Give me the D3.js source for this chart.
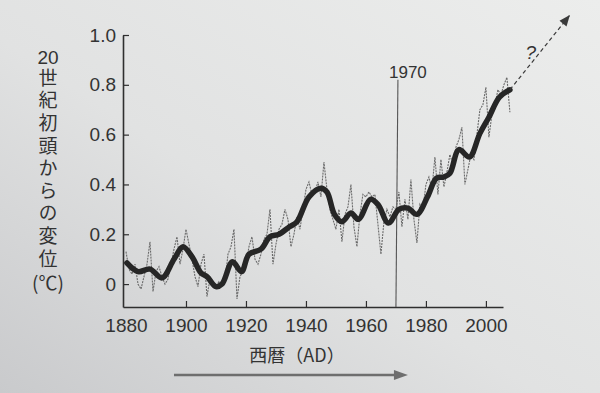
<!DOCTYPE html>
<html><head><meta charset="utf-8">
<script src="https://cdn.jsdelivr.net/npm/d3@7"></script>
<style>html,body{margin:0;padding:0;overflow:hidden;background:#e2e3e3}</style>
</head><body>
<svg id="c" width="600" height="393"></svg>
<script>
// ---- data ----
const years = d3.range(1880, 2009);
const annual = [
 0.13,0.06,0.04,0.08,0.00,-0.02,0.03,0.08,0.17,-0.03,
 0.05,0.07,0.03,0.00,0.02,0.08,0.14,0.19,0.08,0.14,
 0.22,0.16,0.10,0.03,-0.01,0.08,0.12,-0.05,0.02,0.00,
 -0.01,0.01,0.00,0.01,0.12,0.15,0.22,-0.06,0.03,0.05,
 0.08,0.15,0.19,0.10,0.08,0.12,0.18,0.20,0.30,0.08,
 0.16,0.22,0.24,0.30,0.26,0.15,0.20,0.27,0.22,0.30,
 0.38,0.41,0.36,0.37,0.41,0.35,0.49,0.38,0.30,0.26,
 0.22,0.30,0.17,0.28,0.31,0.40,0.23,0.15,0.28,0.36,
 0.35,0.37,0.35,0.36,0.24,0.12,0.25,0.30,0.27,0.31,
 0.30,0.37,0.23,0.34,0.26,0.42,0.26,0.165,0.32,0.30,
 0.40,0.43,0.38,0.51,0.36,0.50,0.39,0.45,0.52,0.48,
 0.55,0.58,0.63,0.40,0.46,0.52,0.50,0.60,0.70,0.72,
 0.79,0.59,0.68,0.72,0.78,0.76,0.80,0.83,0.69
];
const smoothYears = [1880.3,1884,1888,1892,1896,1899,1902,1905,1907,1910,1912,1915.5,1918.5,1921,1925,1928,1931,1934.5,1937,1941,1945,1947,1949.5,1952,1955,1957.5,1961.5,1964,1967.5,1971,1974,1977,1980.5,1983.5,1986,1988,1991,1994.5,1998,2001,2004.5,2008];
const smoothVals  = [0.085,0.05,0.06,0.025,0.10,0.15,0.11,0.045,0.03,-0.01,0.00,0.09,0.05,0.12,0.14,0.19,0.20,0.23,0.25,0.35,0.385,0.37,0.28,0.25,0.285,0.26,0.34,0.32,0.245,0.30,0.305,0.28,0.35,0.425,0.43,0.445,0.54,0.51,0.605,0.67,0.75,0.78];
const xTicks = [1880,1900,1920,1940,1960,1980,2000];
const yTicks = [0,0.2,0.4,0.6,0.8,1.0];
const yLabelTop = "20";
const yLabelMain = "世紀初頭からの変位";
const yLabelUnit = "(℃)";
const markYear = 1970;
const trendArrow = {from:[2008,0.78], to:[2028,1.08], q:[2015,0.92]};
const timeArrow = [1896, 1974];

// ---- layout ----
const svg = d3.select("#c");
const defs = svg.append("defs");
const g = defs.append("linearGradient").attr("id","bg").attr("x1","1").attr("y1","0").attr("x2","0").attr("y2","1");
g.append("stop").attr("offset","0").attr("stop-color","#ecedec");
g.append("stop").attr("offset","0.55").attr("stop-color","#e1e2e2");
g.append("stop").attr("offset","1").attr("stop-color","#c9cacc");
svg.append("rect").attr("width",600).attr("height",393).attr("fill","url(#bg)");

const x = d3.scaleLinear().domain([1879, 2005.7]).range([123, 503]);
const y = d3.scaleLinear().domain([-0.092, 1.0]).range([307, 35]);
const ink = "#2f2f2f";
const font = "'Liberation Sans', Arial, sans-serif";
const jfont = "'Noto Sans CJK JP', sans-serif";

// axes
const ax = svg.append("g").attr("transform","translate(0,307)")
  .call(d3.axisBottom(x).tickValues(xTicks).tickSize(-6).tickSizeOuter(0).tickPadding(12).tickFormat(d3.format("d")));
ax.select(".domain").attr("stroke",ink).attr("stroke-width",1.6);
ax.selectAll(".tick line").attr("stroke",ink).attr("stroke-width",1.2);
ax.selectAll(".tick text").attr("fill","#333").attr("font-size",19).attr("font-family",font);
ax.selectAll(".tick").filter(d=>d===1880).select("line").remove();

const ay = svg.append("g").attr("transform","translate(123,0)")
  .call(d3.axisLeft(y).tickValues(yTicks).tickSize(-6).tickSizeOuter(0).tickPadding(7).tickFormat(d=>d===0?"0":d3.format(".1f")(d)));
ay.select(".domain").attr("stroke",ink).attr("stroke-width",1.6);
ay.selectAll(".tick line").attr("stroke",ink).attr("stroke-width",1.2);
ay.selectAll(".tick text").attr("fill","#333").attr("font-size",19).attr("font-family",font);

// y label (vertical)
svg.append("text").attr("x",48).attr("y",64).attr("text-anchor","middle")
  .attr("fill","#333").attr("font-size",19).attr("font-family",font).text(yLabelTop);
svg.append("text").attr("x",48).attr("y",68)
  .attr("fill","#333").attr("font-size",19).attr("font-family",jfont)
  .style("writing-mode","vertical-rl").style("text-orientation","upright")
  .style("letter-spacing","3.6px").text(yLabelMain);
svg.append("text").attr("x",48).attr("y",290).attr("text-anchor","middle")
  .attr("fill","#333").attr("font-size",19).attr("font-family",jfont).text(yLabelUnit);

// x label
svg.append("text").attr("x",297).attr("y",362).attr("text-anchor","middle")
  .attr("fill","#333").attr("font-size",18).attr("font-family",jfont)
  .text("西暦（AD）");

// 1970 marker
svg.append("line").attr("x1",x(markYear)).attr("x2",x(markYear)+2)
  .attr("y1",y(0)+23).attr("y2",y(0.82)).attr("stroke","#555").attr("stroke-width",1.1);
svg.append("text").attr("x",x(markYear)+12).attr("y",78).attr("text-anchor","middle")
  .attr("fill","#333").attr("font-size",17).attr("font-family",font).text(markYear);

// annual thin line
const annualData = years.map((yr,i)=>[yr, annual[i]]);
svg.append("path").datum(annualData)
  .attr("d", d3.line().x(d=>x(d[0])).y(d=>y(d[1])))
  .attr("fill","none").attr("stroke","#6a6a6a").attr("stroke-width",1.1)
  .attr("stroke-dasharray","2,1");

// smooth thick line
const smoothData = smoothYears.map((yr,i)=>[yr, smoothVals[i]]);
svg.append("path").datum(smoothData)
  .attr("d", d3.line().x(d=>x(d[0])).y(d=>y(d[1])).curve(d3.curveCatmullRom.alpha(0.5)))
  .attr("fill","none").attr("stroke","#262626").attr("stroke-width",5.5)
  .attr("stroke-linecap","round").attr("stroke-linejoin","round");

// trend arrow (dashed) with "?"
const [fx,fy] = [x(trendArrow.from[0]), y(trendArrow.from[1])];
const [tx,ty] = [x(trendArrow.to[0]), y(trendArrow.to[1])];
svg.append("line").attr("x1",fx).attr("y1",fy).attr("x2",tx).attr("y2",ty)
  .attr("stroke","#3a3a3a").attr("stroke-width",1.2).attr("stroke-dasharray","4,3");
const ang = Math.atan2(ty-fy, tx-fx);
const hl = 11, hw = 4.5;
const p1 = [tx - hl*Math.cos(ang) + hw*Math.sin(ang), ty - hl*Math.sin(ang) - hw*Math.cos(ang)];
const p2 = [tx - hl*Math.cos(ang) - hw*Math.sin(ang), ty - hl*Math.sin(ang) + hw*Math.cos(ang)];
svg.append("path").attr("d",`M${tx},${ty}L${p1}L${p2}Z`).attr("fill","#3a3a3a");
svg.append("text").attr("x",x(trendArrow.q[0])).attr("y",y(trendArrow.q[1])+4)
  .attr("text-anchor","middle").attr("fill","#333").attr("font-size",19)
  .attr("font-style","italic").attr("font-family",font).text("?");

// time arrow
const ax1 = x(timeArrow[0]), ax2 = x(timeArrow[1]);
svg.append("line").attr("x1",ax1).attr("x2",ax2-10).attr("y1",375).attr("y2",375)
  .attr("stroke","#6e6e6e").attr("stroke-width",2.6);
svg.append("path").attr("d",`M${ax2},375L${ax2-14},370L${ax2-14},380Z`).attr("fill","#6e6e6e");
</script>
</body></html>
